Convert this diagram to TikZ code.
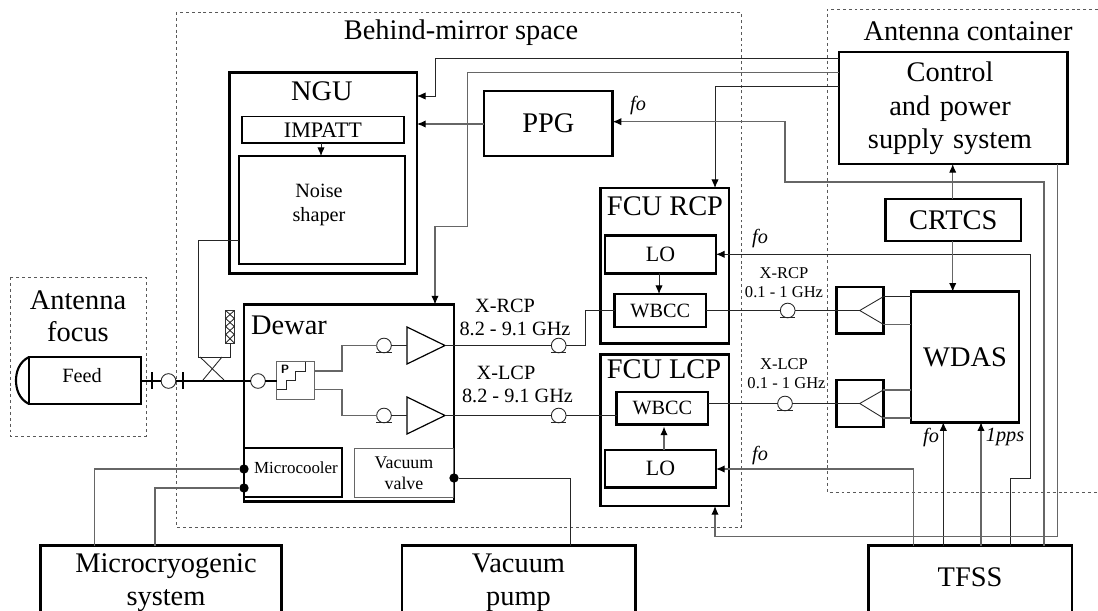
\documentclass[tikz,border=0pt]{standalone}
\usepackage{fontspec}
\setmainfont{Liberation Serif}
\usetikzlibrary{arrows.meta}
\newcommand{\fsA}{\fontsize{21.3}{25}\selectfont}
\newcommand{\fsB}{\fontsize{15.2}{18}\selectfont}
\newcommand{\fsC}{\fontsize{12.4}{14.5}\selectfont}
% \pbx[style]{name}{x1}{y1}{x2}{y2}{text}
\newcommand{\pbx}[7][]{%
  \pgfmathsetmacro{\pcx}{(#3+#5)/2}\pgfmathsetmacro{\pcy}{(#4+#6)/2}%
  \pgfmathsetmacro{\pw}{(#5-#3)*0.75}\pgfmathsetmacro{\ph}{(#6-#4)*0.75}%
  \node[minimum width=\pw pt,minimum height=\ph pt,#1] (#2) at (\pcx,\pcy) {#7};}
% coaxial indicator with a base line
\newcommand{\coax}[3]{\node[indic] (#1) at (#2,#3) {};
  \draw[thin line] ([xshift=-5.8pt]#1.south) -- ([xshift=5.8pt]#1.south);}
\tikzset{
  x=0.75pt,y=-0.75pt,
  every node/.style={inner sep=0pt,outer sep=0pt,align=center},
  thick box/.style={draw=black,line width=1.9pt},
  mid box/.style={draw=black,line width=1.2pt},
  fine box/.style={draw=black!60,line width=0.7pt},
  thin line/.style={draw=black!85,line width=0.65pt},
  grey line/.style={draw=black!60,line width=0.8pt},
  zone/.style={draw=black!65,line width=0.7pt,dash pattern=on 2.2pt off 2.2pt},
  arrowed/.style={-{Latex[length=6.5pt,width=5.5pt,color=black]}},
  indic/.style={circle,draw=black!85,line width=0.65pt,minimum size=11pt},
  solder/.style={circle,fill=black,minimum size=7pt},
  titletext/.style={font=\fsA},
  midtext/.style={font=\fsB},
  smalltext/.style={font=\fsC},
  sig/.style={font=\fsB\itshape},
}
\begin{document}
\begin{tikzpicture}
\useasboundingbox (0,0) rectangle (1098,610);
\clip (0,0) rectangle (1098,610);

% zones
\draw[zone] (176,12) rectangle (741,527);
\draw[zone] (10,277) rectangle (146,436);
\draw[zone] (1098,9) -- (827,9) -- (827,492) -- (1098,492);
\node[titletext] (zoneB) at (461,33) {Behind-mirror space};
\node[titletext] (zoneC) at (968,31) {Antenna container};
\node[titletext,text width=130pt] (zoneA) at (78,316) {Antenna\\[-1pt]focus};

% boxes
\pbx[thick box,font=\fsB]{feed}{29}{357}{141}{404}{}
\node[midtext] (feedt) at (82,376) {Feed};
\draw[line width=1.6pt] (feed.north west) .. controls (19,362) and (16,372) .. (16,380.5) .. controls (16,389) and (19,399) .. (feed.south west);

\pbx[thick box]{ngu}{229.5}{72.5}{417}{273.5}{}
\node[titletext] (ngut) at (322,91) {NGU};
\pbx[mid box,midtext]{impatt}{241.7}{116.5}{404}{143}{\fontsize{16.6}{19}\selectfont IMPATT}
\pbx[thick box]{shaper}{239}{156}{405}{264}{}
\node[midtext] (shapert) at (319,205) {Noise\\shaper};

\pbx[thick box,titletext]{ppg}{484}{91}{612.7}{156}{PPG}

\pbx[thick box]{dewar}{244}{304.5}{454}{501.5}{}
\node[titletext] (dewart) at (289,325) {Dewar};
\pbx[mid box]{mcool}{244}{448}{342}{497}{}
\node[font=\fontsize{12.7}{15}\selectfont] (mcoolt) at (296,468) {Microcooler};
\pbx[fine box]{vvalve}{354.5}{448}{453}{497}{}
\node[font=\fontsize{13.4}{15.75}\selectfont] (vvalvet) at (404,473.5) {Vacuum\\valve};

\pbx[thick box]{fcur}{600.5}{188}{729}{343.3}{}
\node[titletext] (fcurt) at (665,206) {FCU RCP};
\pbx[thick box,font=\fontsize{16.4}{19}\selectfont]{lor}{605}{235.5}{716}{273.3}{LO}
\pbx[thick box,midtext]{wbr}{614.5}{294}{706}{327}{WBCC}

\pbx[thick box]{fcul}{600.5}{354.5}{729}{506}{}
\node[titletext] (fcult) at (664,369) {FCU LCP};
\pbx[thick box,midtext]{wbl}{616.7}{392}{708}{424.7}{WBCC}
\pbx[thick box,font=\fontsize{16.4}{19}\selectfont]{lol}{605}{450}{716}{487.7}{LO}

\pbx[thick box]{cps}{839}{52}{1067.5}{164}{}
\node[titletext,text width=165pt,font=\fontsize{21.3}{25}\selectfont] (cpst) at (950,108.5) {Control\\and power\\supply system};
\pbx[thick box,titletext]{crtcs}{885.5}{199}{1021}{241}{CRTCS}
\pbx[thick box,titletext]{wdas}{911}{291.7}{1019}{422.3}{WDAS}
\pbx[thick box]{spr}{836.7}{287}{883.3}{333.7}{}
\pbx[thick box]{spl}{836.7}{380}{883.3}{427}{}

\pbx[thick box]{tfss}{868.7}{545.5}{1072}{640}{}
\node[titletext] (tfsst) at (970,577) {TFSS};
\pbx[thick box]{mcs}{40.5}{545.5}{281.5}{640}{}
\node[font=\fontsize{21.3}{24.75}\selectfont] (mcst) at (166,583) {Microcryogenic\\system};
\pbx[thick box]{vpump}{402}{545.5}{635.5}{640}{}
\node[font=\fontsize{21.3}{24.75}\selectfont] (vpumpl) at (518.5,583) {Vacuum\\pump};

% polarizer block
\pbx[fine box]{pol}{276.7}{361.5}{314}{399}{}
\node[font=\sffamily\bfseries\fontsize{9}{10}\selectfont] (polp) at (285,369) {P};
\draw[thin line] (305,361.5) -- (305,371.7) -- (295,371.7) -- (295,380.7) -- (286,380.7) -- (286,389.3) -- (pol.west |- 0,389.3);

% amplifiers
\coordinate (a1in) at (407,345.5); \coordinate (a1out) at (445,345.5);
\coordinate (a2in) at (407,415.5); \coordinate (a2out) at (445,415.5);
\draw[mid box,line width=0.9pt] (407,327) -- (a1out) -- (407,364) -- cycle;
\draw[mid box,line width=0.9pt] (407,397) -- (a2out) -- (407,434) -- cycle;

% indicators
\coax{c1}{384}{345.5}
\coax{c2}{384}{415.5}
\coax{c3}{558.7}{345.5}
\coax{c4}{558.7}{415.5}
\coax{c5}{787.7}{310.5}
\coax{c6}{785}{403.5}
\node[indic] (c7) at (168.5,381) {};
\node[indic] (c8) at (258,381) {};

% feed line
\draw[line width=1.3pt] (feed.east |- 0,381) -- (c7);
\draw[line width=1.3pt] (c7) -- (c8);
\draw[line width=1.3pt] (c8) -- (pol.west |- c8);
\draw[line width=1.2pt] (152,372) -- (152,389);
\draw[line width=1.2pt] (183,372) -- (183,389);

% directional coupler and load
\pbx[fine box,draw=black!80]{load}{225.7}{310.5}{234.3}{343}{}
\draw[thin line] (load.north west) -- (234.3,318.5) -- (225.7,326.5) -- (234.3,334.5) -- (load.south west);
\draw[thin line] (load.north east) -- (225.7,318.5) -- (234.3,326.5) -- (225.7,334.5) -- (load.south east);
\coordinate (xa) at (198,357); \coordinate (xb) at (230,357);
\draw[thin line] (load.south) -- (xb) -- (xa) -- (198,240) -- (shaper.west |- 0,240);
\draw[thin line] (200,357) -- (224,380);
\draw[thin line] (222,357) -- (203,380);

% polarizer to amplifiers
\draw[grey line] (pol.east |- 0,371) -- (342,371) -- (342,345.5) -- (c1);
\draw[thin line] (c1) -- (a1in);
\draw[grey line] (pol.east |- 0,389.5) -- (342,389.5) -- (342,415.5) -- (c2);
\draw[thin line] (c2) -- (a2in);

% amplifiers to converters
\draw[thin line] (a1out) -- (c3);
\draw[thin line] (c3) -- (585.3,345.5) -- (585.3,310.3) -- (wbr.west |- 0,310.3);
\draw[thin line] (a2out) -- (c4);
\draw[thin line] (c4) -- (wbl.west |- c4);

% converters to splitters
\coordinate (apr) at (859.7,310.5);
\coordinate (apl) at (859.7,403.5);
\draw[thin line] (wbr.east |- c5) -- (c5);
\draw[thin line] (c5) -- (apr);
\draw[thin line] (wbl.east |- c6) -- (c6);
\draw[thin line] (c6) -- (apl);
\draw[thin line] (spr.east |- 0,296.7) -- (apr) -- (spr.east |- 0,324.3);
\draw[thin line] (spl.east |- 0,390) -- (apl) -- (spl.east |- 0,418);
\draw[thin line] (spr.east |- 0,296.7) -- (wdas.west |- 0,296.7);
\draw[grey line] (spr.east |- 0,324.3) -- (wdas.west |- 0,324.3);
\draw[grey line] (spl.east |- 0,390) -- (wdas.west |- 0,390);
\draw[grey line] (spl.east |- 0,418) -- (wdas.west |- 0,418);

% inner arrows
\draw[thin line,arrowed] (impatt.south -| 321,0) -- (shaper.north -| 321,0);
\draw[thin line,arrowed] (lor.south -| 659,0) -- (wbr.north -| 659,0);
\draw[grey line,arrowed] (lol.north -| 664,0) -- (664,426.5);

% control lines
\draw[thin line,arrowed] (cps.west |- 0,58.5) -- (435,58.5) -- (435,96) -- (ngu.east |- 0,96);
\draw[grey line,arrowed] (cps.west |- 0,72.5) -- (467.7,72.5) -- (467.7,226.3) -- (435,226.3) -- (dewar.north -| 435,0);
\draw[thin line,arrowed] (cps.west |- 0,86.5) -- (715,86.5) -- (fcur.north -| 715,0);
\draw[grey line,arrowed] (ppg.west |- 0,124) -- (ngu.east |- 0,124);
\draw[grey line,arrowed] (tfss.north -| 1044,0) -- (1044,182) -- (785,182) -- (785,121.7) -- (ppg.east |- 0,121.7);
\draw[thin line,arrowed] (tfss.north -| 1010.7,0) -- (1010.7,478) -- (1030,478) -- (1030,254.3) -- (lor.east |- 0,254.3);
\draw[grey line,arrowed] (tfss.north -| 913.3,0) -- (913.3,469) -- (lol.east |- 0,469);
\draw[thin line,arrowed] (tfss.north -| 943.3,0) -- (wdas.south -| 943.3,0);
\draw[grey line,arrowed] (tfss.north -| 981,0) -- (wdas.south -| 981,0);
\draw[grey line,arrowed] (cps.south -| 1057.7,0) -- (1057.7,536.7) -- (715,536.7) -- (fcul.south -| 715,0);
\draw[grey line,arrowed] (crtcs.north -| 952.7,0) -- (cps.south -| 952.7,0);
\draw[grey line,arrowed] (crtcs.south -| 952.7,0) -- (wdas.north -| 952.7,0);

% cooler and pump lines
\node[solder] (d1) at (244,469) {};
\node[solder] (d2) at (244,488) {};
\node[solder] (d3) at (454,478) {};
\draw[grey line] (d1) -- (94.5,469) -- (mcs.north -| 94.5,0);
\draw[grey line] (d2) -- (155,488) -- (mcs.north -| 155,0);
\draw[thin line] (d3) -- (570.7,478) -- (vpump.north -| 570.7,0);

% labels
\node[midtext] (lb1) at (505,306) {X-RCP};
\node[midtext] (lb2) at (515,329) {8.2 - 9.1 GHz};
\node[midtext] (lb3) at (506,373) {X-LCP};
\node[midtext] (lb4) at (517.5,396) {8.2 - 9.1 GHz};
\node[smalltext] (lb5) at (784,272.7) {X-RCP};
\node[smalltext] (lb6) at (784,291.7) {0.1 - 1 GHz};
\node[smalltext] (lb7) at (784,364) {X-LCP};
\node[smalltext] (lb8) at (786.5,383) {0.1 - 1 GHz};
\node[sig] (f1) at (638,106) {fo};
\node[sig] (f2) at (760,239) {fo};
\node[sig] (f3) at (760,456) {fo};
\node[sig] (f4) at (931,438) {fo};
\node[sig] (f5) at (1005,437) {1pps};
\end{tikzpicture}
\end{document}
